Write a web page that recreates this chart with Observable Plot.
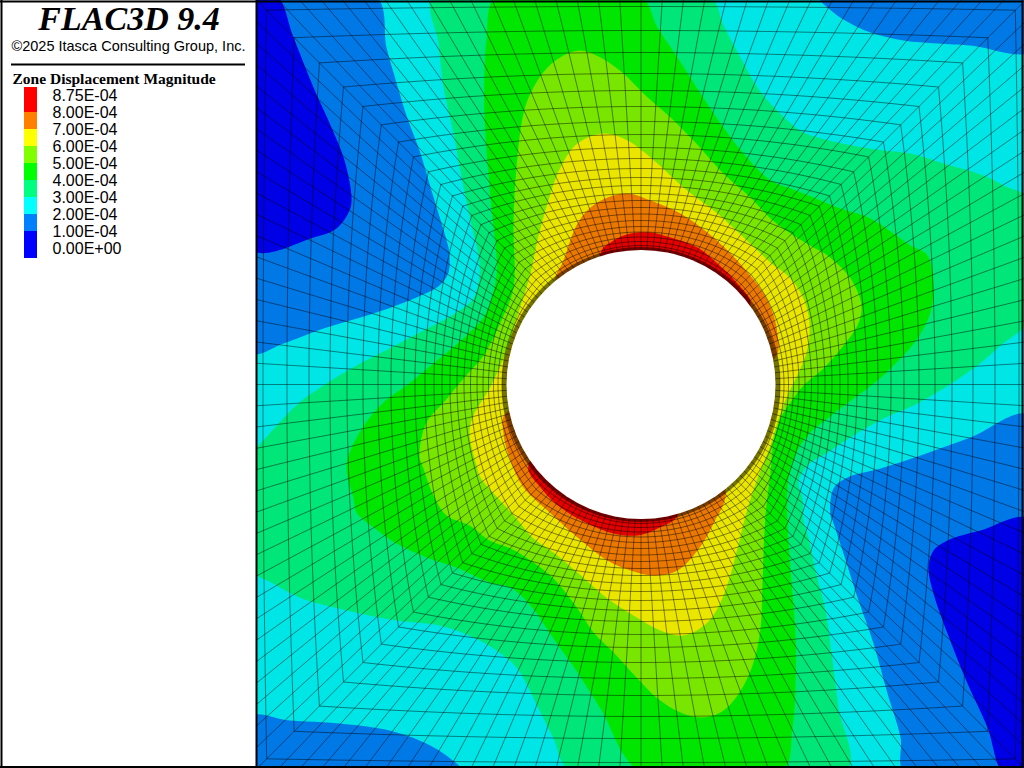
<!DOCTYPE html>
<html>
<head>
<meta charset="utf-8">
<script src="https://cdn.jsdelivr.net/npm/d3@7"></script>
<script src="https://cdn.jsdelivr.net/npm/@observablehq/plot@0.6"></script>
<style>html,body{margin:0;padding:0;background:#fff;overflow:hidden}</style>
</head>
<body>
<div id="chart"></div>
<script>
// Contour bands (image coordinates of the model view)
const azureTL = [[250,-5],[375,-5],[386,47],[393,72],[406,115],[419,150],[431,190],[448,247],[449,255],[448,272],[439,285],[416,297],[373,313],[323,328],[283,343],[250,352]];
const blueTL = [[250,-5],[276,-5],[293,37],[313,87],[331,127],[344,160],[351,197],[349,210],[336,228],[313,237],[250,249]];
const azureTR = [[818,-5],[833,12],[850,23],[870,32],[903,40],[937,43],[970,45],[1030,51],[1030,-5]];
const azureBL = [[250,716],[289,720],[339,723],[389,730],[419,740],[443,753],[462,772],[250,772]];
const azureBR = [[1030,415],[970,437],[920,455],[880,468],[847,477],[833,488],[830,515],[832,520],[843,553],[857,597],[873,643],[887,693],[900,737],[904,772],[1030,772]];
const blueBR = [[1030,519],[980,530],[947,540],[933,550],[928,567],[933,593],[947,633],[967,683],[987,727],[1003,772],[1030,772]];
const spring = [[433,-5],[708,-5],[723,25],[740,57],[757,87],[770,103],[787,120],[803,132],[837,142],[883,150],[910,153],[943,163],[983,175],[1003,185],[1030,200],[1030,317],[1000,345],[977,365],[943,388],[913,405],[883,418],[853,435],[827,452],[807,465],[798,482],[802,498],[803,520],[808,537],[815,570],[825,610],[832,660],[838,707],[846,772],[571,772],[553,738],[540,712],[523,678],[516,667],[496,650],[473,637],[439,625],[396,620],[346,610],[299,597],[273,583],[250,568],[250,452],[258,445],[279,422],[299,402],[323,385],[356,365],[389,348],[423,330],[456,312],[473,298],[479,275],[478,255],[473,233],[463,187],[453,133],[443,87],[438,43]];
const green = [[496,-5],[639,-5],[657,27],[677,57],[700,93],[723,127],[743,153],[770,180],[790,188],[813,197],[837,207],[870,218],[893,233],[910,245],[927,255],[933,288],[930,312],[917,338],[900,358],[877,380],[853,398],[827,418],[810,432],[798,448],[790,468],[787,488],[787,520],[788,540],[790,570],[795,633],[795,687],[792,727],[781,772],[641,772],[600,708],[577,672],[553,638],[530,605],[510,587],[489,582],[456,567],[426,557],[396,543],[373,527],[356,512],[353,498],[346,465],[359,432],[383,402],[406,385],[439,358],[466,335],[486,312],[496,275],[496,255],[491,207],[484,117],[484,70],[486,40]];
const lime = [[580,50],[600,57],[623,73],[643,93],[670,117],[693,140],[723,173],[750,197],[770,218],[790,233],[813,247],[827,255],[850,278],[861,305],[857,325],[843,345],[823,368],[803,385],[790,402],[780,418],[773,442],[770,472],[765,515],[762,582],[760,628],[752,665],[737,695],[720,712],[700,717],[680,712],[657,698],[637,678],[613,652],[593,632],[577,608],[553,578],[533,562],[510,548],[489,540],[469,525],[446,515],[433,495],[423,468],[419,455],[426,422],[443,402],[463,378],[483,355],[500,322],[513,287],[513,227],[515,180],[523,113],[533,87],[547,67],[563,55]];
const yellow = [[603,133],[627,140],[657,163],[683,187],[717,213],[757,250],[770,262],[790,278],[803,298],[809,322],[807,348],[800,368],[787,395],[777,422],[770,445],[757,478],[745,515],[737,548],[723,595],[707,622],[683,635],[660,630],[633,615],[607,598],[577,572],[553,552],[533,538],[516,518],[497,497],[480,477],[476,465],[469,432],[473,415],[489,388],[503,358],[517,315],[530,273],[537,240],[547,203],[560,167],[577,143]];
const orangeTop = [[555,283],[563,260],[577,223],[590,207],[607,197],[627,193],[650,200],[680,213],[713,237],[743,267],[767,300],[777,333],[774,358],[640,384]];
const orangeBottom = [[505,413],[503,433],[510,460],[523,487],[547,510],[577,537],[607,560],[630,570],[653,575],[677,570],[697,550],[713,523],[725,488],[640,384]];
const redTop = [[600,253],[613,240],[630,233],[650,232],[670,237],[697,247],[717,263],[737,283],[750,305],[640,384]];
const redBottom = [[528,465],[540,487],[560,507],[587,523],[613,533],[637,535],[657,528],[678,513],[640,384]];

const bands = [
  [azureTL,"#0078e6"],[blueTL,"#0000e6"],[azureTR,"#0078e6"],[azureBL,"#0078e6"],
  [azureBR,"#0078e6"],[blueBR,"#0000e6"],[spring,"#00e678"],[green,"#00e600"],
  [lime,"#78e600"],[yellow,"#ebe600"],[orangeTop,"#eb7800"],[orangeBottom,"#eb7800"],
  [redTop,"#e60000"],[redBottom,"#e60000"]
];

// Mesh: distance of each zone ring from the hole centre, read on the vertical through the centre
const ringOffsets = [403,378,354,332,311,294,278,263,250,237,226,216,207,199,191,184,177,170.5,164,158,152.5,147.5,143,139];
const cx = 640.5, cy = 384, holeR = 134.5, outer = 403, perSide = 36;

function meshPoint(side, k, t) {
  const a = (k / perSide - 0.5) * Math.PI / 2;          // -45..45 degrees across one side
  const cu = holeR * Math.sin(a), cv = holeR * Math.cos(a);
  const su = outer * (2 * k / perSide - 1), sv = outer;
  const u = (1 - t) * cu + t * su, v = (1 - t) * cv + t * sv;
  const rot = [[u, -v], [v, u], [-u, v], [-v, -u]][side];
  return {x: cx + rot[0], y: cy + rot[1]};
}
const meshLines = [];
ringOffsets.forEach((off, i) => {
  const t = (off - holeR) / (outer - holeR);
  for (let s = 0; s < 4; s++) for (let k = 0; k <= perSide; k++)
    meshLines.push({...meshPoint(s, k, t), id: "r" + i});
});
for (let s = 0; s < 4; s++) for (let k = 0; k < perSide; k++) {
  meshLines.push({...meshPoint(s, k, 0), id: `s${s}-${k}`});
  meshLines.push({...meshPoint(s, k, 1), id: `s${s}-${k}`});
}
const rimAngles = d3.range(0, 361, 3);
const rim = rimAngles.map(a => ({x: cx + 139 * Math.cos(a * Math.PI / 180), y: cy + 137.5 * Math.sin(a * Math.PI / 180)}));

// Legend
const legendLabels = ["8.75E-04","8.00E-04","7.00E-04","6.00E-04","5.00E-04","4.00E-04","3.00E-04","2.00E-04","1.00E-04","0.00E+00"];
const legendLabelY = [95.5,112.5,129.5,146.5,163.5,180.5,197.5,214.5,231.5,248.5];
const legendColors = ["#ff0000","#ff8000","#ffff00","#80ff00","#00ff00","#00ff80","#00ffff","#0080ff","#0000ff"];
const legendEdges = [87,112,129,146,163,180,197,214,231,258];
const swatches = legendColors.map((c, i) => ({c, y1: legendEdges[i], y2: legendEdges[i + 1]}));

const title = "FLAC3D 9.4";
const copyright = "\u00A92025 Itasca Consulting Group, Inc.";
const legendTitle = "Zone Displacement Magnitude";

const chart = Plot.plot({
  width: 1024, height: 768, margin: 0,
  x: {domain: [0, 1024], axis: null},
  y: {domain: [768, 0], axis: null},
  marks: [
    Plot.rect([0], {x1: 256, x2: 1024, y1: 0, y2: 768, fill: "#00e6e6"}),
    ...bands.map(([pts, col]) => Plot.line(pts, {x: d => d[0], y: d => d[1], fill: col, stroke: "none", curve: "catmull-rom-closed"})),
    Plot.line(rim, {x: "x", y: "y", fill: "#000", fillOpacity: 0.5, stroke: "none"}),
    Plot.line(meshLines, {x: "x", y: "y", z: "id", stroke: "#000", strokeOpacity: 0.45, strokeWidth: 1}),
    Plot.dot([0], {x: cx, y: cy, r: holeR, fill: "#fff", stroke: "none"}),
    Plot.rect([0], {x1: 0, x2: 256, y1: 0, y2: 768, fill: "#fff"}),
    Plot.ruleX([1, 256, 1022], {stroke: "#000", strokeWidth: 2}),
    Plot.ruleY([1, 766.5], {stroke: "#000", strokeWidth: 2, x1: 0, x2: 1023}),
    Plot.text([title], {x: 128.5, y: 19, text: d => d, fontFamily: "Liberation Serif", fontWeight: "bold", fontStyle: "italic", fontSize: 34, fill: "#000"}),
    Plot.text([copyright], {x: 128, y: 46, text: d => d, fontFamily: "Liberation Sans", fontSize: 14.5, fill: "#000"}),
    Plot.ruleY([64], {x1: 11, x2: 245, stroke: "#000", strokeWidth: 2}),
    Plot.text([legendTitle], {x: 12, y: 79, text: d => d, textAnchor: "start", fontFamily: "Liberation Serif", fontWeight: "bold", fontSize: 15.5, fill: "#000"}),
    Plot.rect(swatches, {x1: 24, x2: 37, y1: "y1", y2: "y2", fill: "c"}),
    Plot.text(legendLabels, {x: 52, y: (d, i) => legendLabelY[i], text: d => d, textAnchor: "start", fontFamily: "Liberation Sans", fontSize: 16, fill: "#000"})
  ],
  color: {type: "identity"}
});
document.getElementById("chart").appendChild(chart);
</script>
</body>
</html>
